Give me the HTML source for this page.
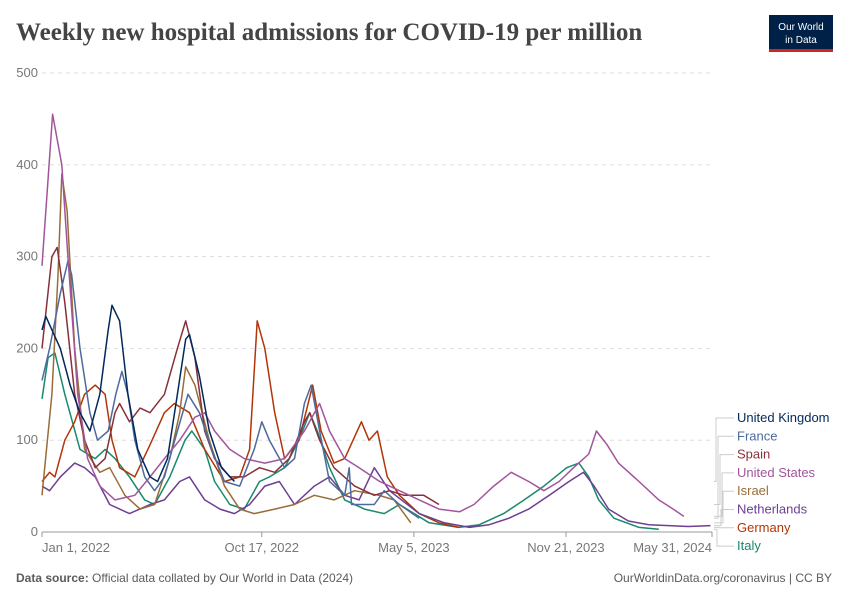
<!DOCTYPE html>
<html><head><meta charset="utf-8"><style>
body{margin:0;background:#fff;font-family:"Liberation Sans",sans-serif;}
svg text{font-family:"Liberation Sans",sans-serif;}
</style></head><body>
<svg id="c" width="850" height="600" xmlns="http://www.w3.org/2000/svg">
<text x="16" y="40" font-size="25" font-weight="bold" fill="#444" style="font-family:'Liberation Serif',serif">Weekly new hospital admissions for COVID-19 per million</text>
<g><rect x="769" y="15" width="64" height="36" fill="#002147"/><rect x="769" y="49" width="64" height="3" fill="#ce261e"/>
<text x="801" y="30" fill="#fff" font-size="10" text-anchor="middle">Our World</text><text x="801" y="43" fill="#fff" font-size="10" text-anchor="middle">in Data</text></g>
<g id="grid"></g><g id="lines"></g><g id="legend"></g>
<text x="16" y="582" font-size="12" fill="#5b5b5b"><tspan font-weight="bold">Data source:</tspan> Official data collated by Our World in Data (2024)</text>
<text x="832" y="582" font-size="12" fill="#5b5b5b" text-anchor="end">OurWorldinData.org/coronavirus | CC BY</text>
</svg>
<script>
const yTicks=[0,100,200,300,400,500];
const xTickLabels=["Jan 1, 2022","Oct 17, 2022","May 5, 2023","Nov 21, 2023","May 31, 2024"];
const xTickDays=[0,289,489,689,881];
const names=["United Kingdom","France","Spain","United States","Israel","Netherlands","Germany","Italy"];
const colors=["#00295b","#4c6a9c","#883039","#a2559c","#996d39","#6d3e91","#b13507","#18896d"];
const ukDays=[0,5,24,37,50,63,76,87,92,102,113,126,142,152,165,178,189,194,207,220,236,253];
const ukVals=[220,235,200,160,130,110,150,220,247,230,150,90,60,55,80,150,210,215,170,110,70,55];
const frDays=[0,10,24,34,39,50,63,73,87,97,105,113,122,135,148,161,178,192,207,223,240,260,279,289,299,319,332,345,354,365,378,398,404,407,437,450,470,496];
const frVals=[165,200,260,295,280,200,130,100,110,150,175,150,100,60,45,60,110,150,130,90,55,50,90,120,100,70,80,140,160,110,55,40,70,30,30,45,30,15];
const esDays=[0,13,20,30,43,56,70,83,96,102,115,129,142,161,178,189,201,214,227,247,266,286,306,325,345,352,365,384,411,437,457,476,502,522];
const esVals=[200,300,310,250,150,100,70,80,130,140,120,135,130,150,200,230,190,110,80,60,60,70,65,80,120,130,100,70,50,40,45,40,40,30];
const usDays=[0,14,26,34,47,60,76,96,122,142,161,181,201,214,227,247,266,293,319,345,365,378,398,417,444,470,496,522,549,568,594,617,640,660,680,699,719,729,743,758,785,811,830,844];
const usVals=[290,455,400,300,150,80,50,35,40,60,80,100,125,130,110,90,80,75,80,110,140,110,80,70,55,45,35,25,22,30,50,65,55,45,55,70,85,110,95,75,55,35,25,17];
const ilDays=[0,13,21,26,33,43,56,76,89,109,129,148,168,181,189,201,220,240,260,279,306,332,358,384,411,443,463,485];
const ilVals=[40,150,280,390,350,200,90,65,70,40,25,30,80,130,180,160,100,50,25,20,25,30,40,35,45,40,35,10];
const nlDays=[0,10,24,43,56,70,89,115,142,161,181,194,214,234,253,273,293,312,332,358,378,398,417,437,457,496,529,562,588,614,640,667,693,712,726,745,771,798,850,879];
const nlVals=[50,45,60,75,70,60,30,20,30,35,55,60,35,25,20,30,50,55,30,50,60,40,35,70,45,20,10,5,8,15,25,40,55,65,50,25,12,8,6,7];
const deDays=[0,10,17,30,43,56,70,83,92,102,122,142,161,174,194,214,240,260,273,283,293,306,319,338,356,367,384,398,420,430,441,454,470,496,522,548];
const deVals=[55,65,60,100,120,150,160,150,100,70,60,95,130,140,130,90,55,60,90,230,200,130,80,100,160,110,75,80,120,100,110,60,40,20,10,5];
const itDays=[0,8,17,30,50,70,83,96,115,135,148,168,188,197,214,227,247,266,286,299,319,338,352,362,378,398,424,450,470,509,548,575,607,634,660,690,706,719,732,752,785,811];
const itVals=[145,190,195,150,90,80,90,80,60,35,30,60,100,110,90,55,30,25,55,60,70,100,130,110,70,35,25,20,30,10,5,8,20,35,50,70,75,60,35,15,5,3];
const allDays=[ukDays,frDays,esDays,usDays,ilDays,nlDays,deDays,itDays];
const allVals=[ukVals,frVals,esVals,usVals,ilVals,nlVals,deVals,itVals];
const NS="http://www.w3.org/2000/svg";
const X0=42,X1=712,D1=881,Y0=532,Y1=73;
const xs=d=>X0+(X1-X0)*d/D1;
const ys=v=>Y0-(Y0-Y1)*v/500;
function mk(t,a,p){const e=document.createElementNS(NS,t);for(const k in a)e.setAttribute(k,a[k]);p.appendChild(e);return e;}
const grid=document.getElementById('grid');
yTicks.forEach(v=>{
 const l=mk('line',{x1:X0,x2:X1,y1:ys(v),y2:ys(v),stroke:v?'#ddd':'#999','stroke-dasharray':v?'4,4':''},grid);
 
 
 const t=mk('text',{x:38,y:ys(v)+4,'text-anchor':'end','font-size':13,fill:'#777'},grid);t.textContent=v;
 
 
});
xTickLabels.forEach((s,i)=>{
 const x=xs(xTickDays[i]);
 const anchor=i==0?'start':(i==xTickLabels.length-1?'end':'middle');
 const t=mk('text',{x:x,y:552,'text-anchor':anchor,'font-size':13,fill:'#777'},grid);t.textContent=s;
 
 
 const tk=mk('line',{x1:x,x2:x,y1:532,y2:537,stroke:'#999'},grid);
 
 
});
const lines=document.getElementById('lines');
const order=[7,6,5,4,2,1,3,0];
order.forEach(i=>{
 const d=allDays[i].map((dd,j)=>(j?'L':'M')+xs(dd).toFixed(1)+','+ys(allVals[i][j]).toFixed(1)).join('');
 const p=mk('path',{d:d,fill:'none',stroke:colors[i],'stroke-width':1.5,'stroke-linejoin':'round'},lines);
 
 
});
const lg=document.getElementById('legend');
names.forEach((n,i)=>{
 const ly=418+i*18.3;
 const last=allVals[i][allVals[i].length-1];
 const ey=ys(last);
 const bx=716+(i<4?i*2:(7-i)*2+1);
 const c=mk('path',{d:`M714,${ey}H${bx}V${ly}H734`,fill:'none',stroke:'#ccc'},lg);
 
 
 const t=mk('text',{x:737,y:ly+4,'font-size':13,fill:colors[i]},lg);t.textContent=n;
 
 
});
</script>
</body></html>
